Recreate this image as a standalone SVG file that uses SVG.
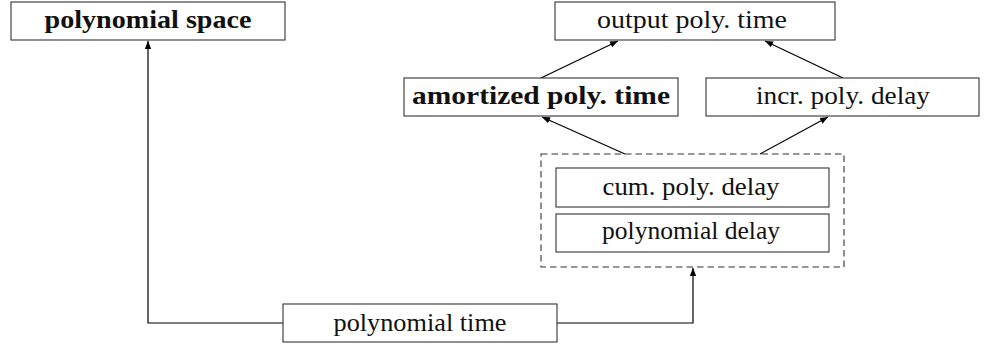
<svg xmlns="http://www.w3.org/2000/svg" width="989" height="347" viewBox="0 0 989 347">
<style>
.box{fill:#fff;stroke:#333;stroke-width:1.1}
.dash{fill:none;stroke:#333;stroke-width:1.1;stroke-dasharray:6.5,4}
.lbl{font-family:"Liberation Serif","Times New Roman",serif;font-size:25px;fill:#111;text-anchor:middle}
.b{font-weight:bold}
.conn{fill:none;stroke:#000;stroke-width:1.2}
</style>
<defs>
<marker id="ah" viewBox="0 0 10 10" refX="10" refY="5" markerWidth="8" markerHeight="8" markerUnits="userSpaceOnUse" orient="auto">
<path d="M0,1 L10,5 L0,9 Z" fill="#000"/>
</marker>
</defs>
<g id="connectors">
<path class="conn" d="M283,323 H148 V41" marker-end="url(#ah)"/>
<path class="conn" d="M557,323 H693 V268" marker-end="url(#ah)"/>
<path class="conn" d="M541,78 L618,41" marker-end="url(#ah)"/>
<path class="conn" d="M843,78 L765,41" marker-end="url(#ah)"/>
<path class="conn" d="M625,154 L542,117" marker-end="url(#ah)"/>
<path class="conn" d="M760,154 L828,117" marker-end="url(#ah)"/>
</g>
<g id="polynomial-space">
<rect class="box" x="11" y="2" width="274" height="38"/>
<text class="lbl b" x="148" y="28" textLength="207" lengthAdjust="spacingAndGlyphs">polynomial space</text>
</g>
<g id="output-poly-time">
<rect class="box" x="555" y="2" width="280" height="38"/>
<text class="lbl" x="692" y="28" textLength="190" lengthAdjust="spacingAndGlyphs">output poly. time</text>
</g>
<g id="amortized-poly-time">
<rect class="box" x="404" y="78" width="274" height="38"/>
<text class="lbl b" x="541" y="104" textLength="258" lengthAdjust="spacingAndGlyphs">amortized poly. time</text>
</g>
<g id="incr-poly-delay">
<rect class="box" x="706" y="78" width="273" height="38"/>
<text class="lbl" x="843" y="104" textLength="174" lengthAdjust="spacingAndGlyphs">incr. poly. delay</text>
</g>
<g id="delay-group">
<rect class="dash" x="541" y="154" width="303" height="113"/>
</g>
<g id="cum-poly-delay">
<rect class="box" x="556" y="168" width="273" height="39"/>
<text class="lbl" x="691" y="195" textLength="177" lengthAdjust="spacingAndGlyphs">cum. poly. delay</text>
</g>
<g id="polynomial-delay">
<rect class="box" x="556" y="214" width="273" height="38"/>
<text class="lbl" x="691" y="239" textLength="178" lengthAdjust="spacingAndGlyphs">polynomial delay</text>
</g>
<g id="polynomial-time">
<rect class="box" x="283" y="304" width="274" height="38"/>
<text class="lbl" x="420" y="331" textLength="173" lengthAdjust="spacingAndGlyphs">polynomial time</text>
</g>
</svg>
